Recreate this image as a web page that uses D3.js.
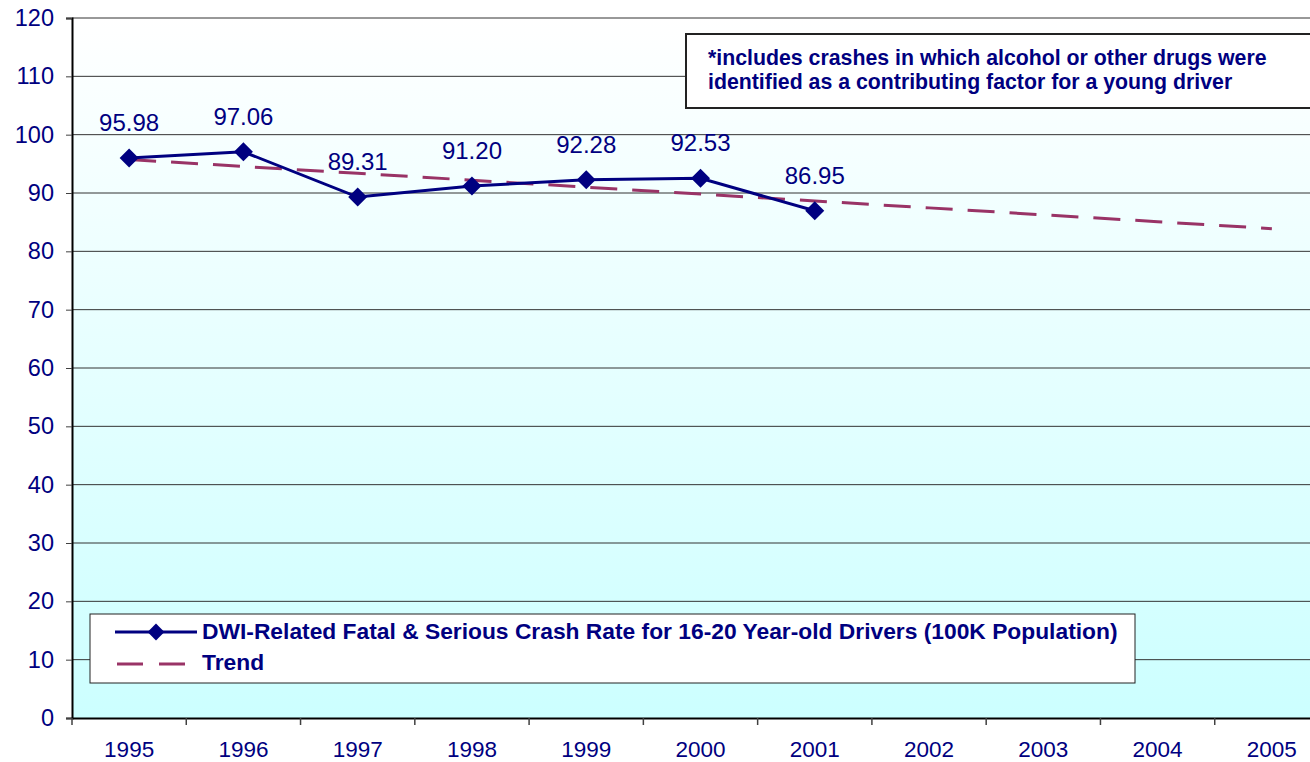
<!DOCTYPE html>
<html>
<head>
<meta charset="utf-8">
<script src="https://cdn.jsdelivr.net/npm/d3@7"></script>
<style>
  body { margin: 0; background: #fff; overflow: hidden; }
  text { font-family: Arial, "Liberation Sans", sans-serif; }
</style>
</head>
<body>
<svg id="chart"></svg>
<script>
const years = ['1995', '1996', '1997', '1998', '1999', '2000', '2001', '2002', '2003', '2004', '2005'];
const rateYears = ['1995', '1996', '1997', '1998', '1999', '2000', '2001'];
const rates = [95.98, 97.06, 89.31, 91.20, 92.28, 92.53, 86.95];
const trend = [95.74, 94.55, 93.37, 92.19, 91.00, 89.82, 88.63, 87.45, 86.26, 85.08, 83.89];
const yTicks = [0, 10, 20, 30, 40, 50, 60, 70, 80, 90, 100, 110, 120];
const seriesName = 'DWI-Related Fatal & Serious Crash Rate for 16-20 Year-old Drivers (100K Population)';
const trendName = 'Trend';
const noteLines = ['*includes crashes in which alcohol or other drugs were',
                   'identified as a contributing factor for a young driver'];

const svgWidth = 1310, svgHeight = 762;
const margin = { top: 18, left: 72, bottom: 44 };
const plotWidth = 1257;
const height = svgHeight - margin.top - margin.bottom;
const navy = '#000080';
const font = 'Arial, "Liberation Sans", sans-serif';

const svg = d3.select('#chart').attr('width', svgWidth).attr('height', svgHeight);

const defs = svg.append('defs');
const grad = defs.append('linearGradient').attr('id', 'bg')
  .attr('x1', 0).attr('y1', 0).attr('x2', 0).attr('y2', 1);
grad.append('stop').attr('offset', '0%').attr('stop-color', '#ffffff');
grad.append('stop').attr('offset', '100%').attr('stop-color', '#ccffff');

const g = svg.append('g').attr('transform', `translate(${margin.left},${margin.top})`);

const x = d3.scaleBand().domain(years).range([0, plotWidth]);
const cx = d => x(d) + x.bandwidth() / 2;
const y = d3.scaleLinear().domain([0, 120]).range([height, 0]);

g.append('rect').attr('width', plotWidth).attr('height', height).attr('fill', 'url(#bg)');

// gridlines
g.append('g').selectAll('line').data(yTicks.filter(t => t > 0)).join('line')
  .attr('x1', 0).attr('x2', plotWidth)
  .attr('y1', d => y(d)).attr('y2', d => y(d))
  .attr('stroke', '#333').attr('stroke-width', 1);

// y axis
const yAxis = g.append('g')
  .call(d3.axisLeft(y).tickValues(yTicks).tickSize(6).tickPadding(12));
yAxis.select('.domain').attr('stroke', '#000').attr('stroke-width', 2);
yAxis.selectAll('.tick line').attr('stroke', '#404040');
yAxis.selectAll('.tick text').attr('fill', navy).attr('font-size', 23.5)
  .attr('font-family', font);

// x axis
const xAxis = g.append('g').attr('transform', `translate(0,${height})`)
  .call(d3.axisBottom(x).tickSize(0).tickPadding(23));
xAxis.select('.domain').attr('stroke', '#000').attr('stroke-width', 2);
xAxis.selectAll('.tick text').attr('fill', navy).attr('font-size', 22.5)
  .attr('font-family', font);
g.append('g').selectAll('line').data(years).join('line')
  .attr('x1', d => x(d)).attr('x2', d => x(d))
  .attr('y1', height).attr('y2', height + 7)
  .attr('stroke', '#404040').attr('stroke-width', 1.5);

// note box
const note = g.append('g').attr('transform', `translate(${614},${16})`);
note.append('rect').attr('width', 700).attr('height', 74)
  .attr('fill', '#fff').attr('stroke', '#222').attr('stroke-width', 2);
note.selectAll('text').data(noteLines).join('text')
  .attr('x', 22).attr('y', (d, i) => 31 + i * 24)
  .attr('fill', navy).attr('font-size', 21.3).attr('font-weight', 'bold')
  .text(d => d);

// trend line
g.append('path').datum(years.map((d, i) => [d, trend[i]]))
  .attr('fill', 'none').attr('stroke', '#993366').attr('stroke-width', 3)
  .attr('stroke-dasharray', '27,15')
  .attr('d', d3.line().x(d => cx(d[0])).y(d => y(d[1])));

// data line
g.append('path').datum(rateYears.map((d, i) => [d, rates[i]]))
  .attr('fill', 'none').attr('stroke', navy).attr('stroke-width', 3)
  .attr('d', d3.line().x(d => cx(d[0])).y(d => y(d[1])));

const diamond = d3.symbol().type(d3.symbolDiamond2).size(230);
g.append('g').selectAll('path').data(rates).join('path')
  .attr('transform', (d, i) => `translate(${cx(rateYears[i])},${y(d)})`)
  .attr('d', diamond).attr('fill', navy);

g.append('g').selectAll('text').data(rates).join('text')
  .attr('x', (d, i) => cx(rateYears[i])).attr('y', d => y(d) - 27)
  .attr('text-anchor', 'middle').attr('fill', navy).attr('font-size', 24)
  .text(d => d.toFixed(2));

// legend
const legend = g.append('g').attr('transform', `translate(${18},${596})`);
legend.append('rect').attr('width', 1045).attr('height', 69)
  .attr('fill', '#fff').attr('stroke', '#222').attr('stroke-width', 1);
legend.append('line').attr('x1', 25).attr('x2', 107).attr('y1', 18).attr('y2', 18)
  .attr('stroke', navy).attr('stroke-width', 3);
legend.append('path').attr('transform', 'translate(66,18)')
  .attr('d', d3.symbol().type(d3.symbolDiamond2).size(180)).attr('fill', navy);
legend.append('line').attr('x1', 27).attr('x2', 107).attr('y1', 50).attr('y2', 50)
  .attr('stroke', '#993366').attr('stroke-width', 3).attr('stroke-dasharray', '26,16');
legend.selectAll('text.lg').data([seriesName, trendName]).join('text')
  .attr('class', 'lg').attr('x', 112).attr('y', (d, i) => 25 + i * 31)
  .attr('fill', navy).attr('font-size', 22.8).attr('font-weight', 'bold')
  .text(d => d);
</script>
</body>
</html>
